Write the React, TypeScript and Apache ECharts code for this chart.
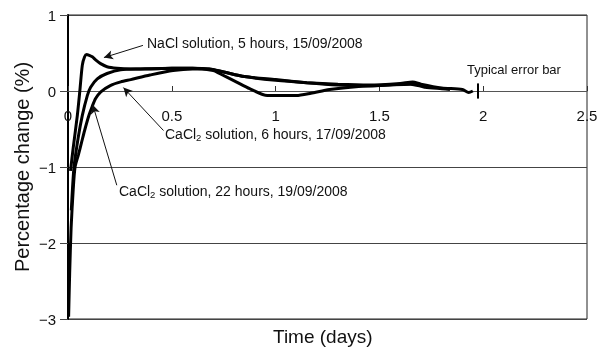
import React, { useEffect, useRef } from "react";
import * as echarts from "echarts";

const xTicks = [0, 0.5, 1, 1.5, 2, 2.5];
const yTicks = [-3, -2, -1, 0, 1];

const naclT = [0.012, 0.025, 0.045, 0.057, 0.069, 0.08, 0.09, 0.101, 0.117, 0.133, 0.157, 0.188, 0.236, 0.3, 0.4, 0.5, 0.6, 0.68, 0.75, 0.85, 1.0, 1.15, 1.3, 1.45, 1.6, 1.66, 1.7, 1.8, 1.9, 1.93, 1.95];
const naclV = [-1.05, -0.75, -0.32, 0.0, 0.34, 0.45, 0.48, 0.47, 0.45, 0.41, 0.36, 0.32, 0.3, 0.29, 0.29, 0.3, 0.3, 0.29, 0.25, 0.19, 0.14, 0.11, 0.09, 0.08, 0.1, 0.12, 0.09, 0.04, 0.02, -0.02, 0.0];

const cacl22T = [0.016, 0.029, 0.05, 0.069, 0.093, 0.109, 0.141, 0.188, 0.254, 0.35, 0.5, 0.6, 0.7, 0.73, 0.81, 0.875, 0.96, 1.1, 1.17, 1.26, 1.4, 1.55, 1.65, 1.72, 1.8, 1.84];
const cacl22V = [-1.57, -1.0, -0.6, -0.32, -0.06, 0.05, 0.16, 0.23, 0.28, 0.29, 0.3, 0.3, 0.27, 0.23, 0.12, 0.03, -0.06, -0.06, -0.03, 0.02, 0.06, 0.08, 0.09, 0.05, 0.03, 0.02];

const cacl6T = [0.003, 0.008, 0.015, 0.025, 0.034, 0.05, 0.065, 0.08, 0.101, 0.117, 0.133, 0.158, 0.206, 0.254, 0.302, 0.395, 0.506, 0.6, 0.68, 0.75, 0.85, 1.0, 1.15, 1.3, 1.45, 1.6, 1.68, 1.72];
const cacl6V = [-2.97, -2.4, -1.8, -1.3, -1.0, -0.84, -0.68, -0.52, -0.32, -0.2, -0.1, -0.01, 0.075, 0.12, 0.15, 0.21, 0.27, 0.29, 0.29, 0.25, 0.19, 0.15, 0.11, 0.08, 0.07, 0.09, 0.1, 0.05];

const errorBarT = [1.975, 1.975];
const errorBarV = [-0.1, 0.1];

const arrowNaCl = [[0.361, 0.6], [0.173, 0.44]];
const arrowCa6 = [[0.46, -0.52], [0.267, 0.045]];
const arrowCa22 = [[0.235, -1.24], [0.119, -0.18]];

const labelNaCl = "NaCl solution, 5 hours, 15/09/2008";
const labelCa6 = "CaCl{s|2} solution, 6 hours, 17/09/2008";
const labelCa22 = "CaCl{s|2} solution, 22 hours, 19/09/2008";
const labelErr = "Typical error bar";
const xTitle = "Time (days)";
const yTitle = "Percentage change (%)";

const FONT = "Liberation Sans, Arial, sans-serif";

function zip(a: number[], b: number[]) {
  return a.map((v, i) => [v, b[i]]);
}

export default function App() {
  const ref = useRef<HTMLDivElement>(null);
  useEffect(() => {
    if (!ref.current) return;
    const chart = echarts.init(ref.current, undefined, { renderer: "svg" });
    const lineSeries = (name: string, data: number[][]) => ({
      name,
      type: "line",
      data,
      showSymbol: false,
      symbol: "none",
      smooth: 0.25,
      lineStyle: { color: "#000", width: 3 },
      z: 3,
    });
    const arrow = (a: number[][]) => [{ coord: a[0] }, { coord: a[1] }];
    const rich = { s: { fontSize: 9.5, fontFamily: FONT, color: "#111", padding: [7, 0, 0, 0] } };
    chart.setOption({
      animation: false,
      grid: { left: 68, top: 15, right: 10, bottom: 33, show: true, borderColor: "#222", borderWidth: 1, containLabel: false },
      xAxis: {
        type: "value",
        min: 0,
        max: 2.5,
        interval: 0.5,
        axisLine: { onZero: true, lineStyle: { color: "#555", width: 1 } },
        axisTick: { show: true, inside: true, length: 5, lineStyle: { color: "#333" } },
        axisLabel: { show: false },
        splitLine: { show: false },
      },
      yAxis: {
        type: "value",
        min: -3,
        max: 1,
        interval: 1,
        name: yTitle,
        nameLocation: "middle",
        nameGap: 36,
        nameMoveOverlap: false,
        nameTextStyle: { fontSize: 20, color: "#111", fontFamily: FONT },
        axisLine: { show: true, lineStyle: { color: "#000", width: 2 } },
        axisTick: { show: true, length: 8, lineStyle: { color: "#444" } },
        axisLabel: { color: "#111", fontSize: 15, fontFamily: FONT, margin: 12, formatter: (v: number) => (yTicks.includes(v) ? String(v).replace("-", "\u2212") : "") },
        splitLine: { show: true, lineStyle: { color: "#444", width: 1 } },
      },
      series: [
        lineSeries("NaCl", zip(naclT, naclV)),
        lineSeries("CaCl2 22h", zip(cacl22T, cacl22V)),
        lineSeries("CaCl2 6h", zip(cacl6T, cacl6V)),
        {
          name: "error",
          type: "line",
          data: zip(errorBarT, errorBarV),
          showSymbol: false,
          symbol: "none",
          lineStyle: { color: "#000", width: 2 },
          z: 4,
          markLine: {
            silent: true,
            symbol: ["none", "arrow"],
            symbolSize: [7, 9],
            label: { show: false },
            lineStyle: { color: "#111", width: 1, type: "solid" },
            emphasis: { disabled: true },
            data: [arrow(arrowNaCl), arrow(arrowCa6), arrow(arrowCa22)],
          },
        },
      ],
    });
    const tickTexts = xTicks.map((t, i) => {
      const p = chart.convertToPixel({ gridIndex: 0 }, [t, 0]) as number[];
      return {
        type: "text",
        id: "xt" + i,
        x: p[0],
        y: p[1] + 24,
        z: 10,
        style: { text: String(t), fontSize: 15, fontFamily: FONT, fill: "#111", align: "center", verticalAlign: "middle" },
      };
    });
    chart.setOption({
      graphic: [
        ...tickTexts,
        { type: "text", id: "g1", left: 147, top: 36, style: { text: labelNaCl, fontSize: 14, fontFamily: FONT, fill: "#111" } },
        { type: "text", id: "g2", left: 165, top: 127, style: { text: labelCa6, fontSize: 14, fontFamily: FONT, fill: "#111", rich } },
        { type: "text", id: "g3", left: 119, top: 184, style: { text: labelCa22, fontSize: 14, fontFamily: FONT, fill: "#111", rich } },
        { type: "text", id: "g4", left: 467, top: 63, style: { text: labelErr, fontSize: 13, fontFamily: FONT, fill: "#111" } },
        { type: "text", id: "g5", left: 273, top: 327, style: { text: xTitle, fontSize: 19, fontFamily: FONT, fill: "#111" } },
      ],
    });
    return () => chart.dispose();
  }, []);
  return <div ref={ref} style={{ position: "fixed", left: 0, top: 0, width: 597, height: 352 }} />;
}
